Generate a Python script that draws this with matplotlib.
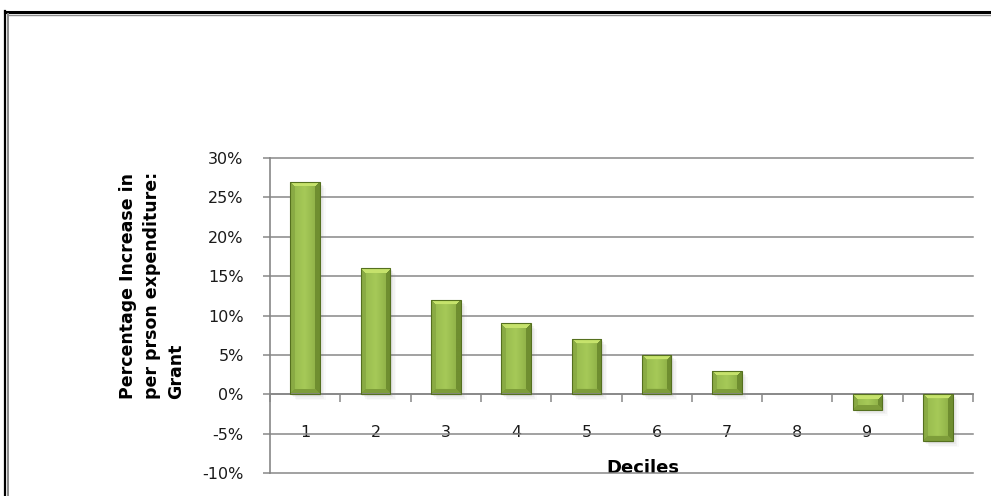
import matplotlib
matplotlib.use("Agg")
import matplotlib.pyplot as plt
import numpy as np
from matplotlib.lines import Line2D
from matplotlib.patches import Rectangle

# per-decile change in per person expenditure (%)
deciles = ['1', '2', '3', '4', '5', '6', '7', '8', '9', '10']
pct_increase = [27, 16, 12, 9, 7, 5, 3, 0, -2, -6]
yticks = [30, 25, 20, 15, 10, 5, 0, -5, -10]

GRID = '#878787'
OUTLINE = '#55701f'


def hex_rgb(h):
    h = h.lstrip('#')
    return np.array([int(h[k:k + 2], 16) / 255 for k in (0, 2, 4)])


def bevel_image(wpx, hpx, b=5.5):
    """RGB image for a bevelled bar of wpx x hpx pixels (row 0 = top)."""
    wpx, hpx = max(int(round(wpx)), 2), max(int(round(hpx)), 2)
    b = min(b, hpx / 3.0, wpx / 3.0)
    j = np.arange(wpx)[None, :] + 0.5
    i = np.arange(hpx)[:, None] + 0.5
    dist = np.stack(np.broadcast_arrays(i, hpx - i, j, wpx - j))
    face = np.argmin(dist, axis=0)
    near = dist.min(axis=0) < b

    # front face: horizontal shading, light in the middle
    t = (j / wpx)[0]
    front_l, front_c, front_r = hex_rgb('#94b84b'), hex_rgb('#a6c958'), hex_rgb('#88a942')
    row = np.where(t[:, None] < 0.5,
                   front_l + (front_c - front_l) * (t[:, None] / 0.5),
                   front_c + (front_r - front_c) * ((t[:, None] - 0.5) / 0.5))
    img = np.broadcast_to(row[None, :, :], (hpx, wpx, 3)).copy()

    faces = [hex_rgb('#c6e36c'),   # top
             hex_rgb('#7e9d3a'),   # bottom
             hex_rgb('#8aab44'),   # left
             hex_rgb('#6f8e30')]   # right
    for k, col in enumerate(faces):
        m = near & (face == k)
        img[m] = col
    return img


plt.rcParams['font.family'] = ['DejaVu Sans']

fig = plt.figure(figsize=(9.91, 4.96), dpi=100)
ax = fig.add_axes([0.2725, 0.0464, 0.7093, 0.635])

x = np.arange(1, len(deciles) + 1)
ax.set_xlim(0.5, len(deciles) + 0.5)
ax.set_ylim(-10, 30)

bars = ax.bar(x, pct_increase, width=0.42, facecolor='none',
              edgecolor=OUTLINE, linewidth=0.8, zorder=3)

# pixel size of one data unit, used for the bevel and shadow
fig.canvas.draw()
p0 = ax.transData.transform((0, 0))
p1 = ax.transData.transform((1, 1))
px_x, px_y = p1[0] - p0[0], p1[1] - p0[1]

for rect in bars:
    x0, w = rect.get_x(), rect.get_width()
    y0, y1 = sorted((rect.get_y(), rect.get_y() + rect.get_height()))
    if y1 - y0 <= 0:
        rect.set_visible(False)
        continue
    # soft shadow below and to the right
    for k, a in enumerate([0.10, 0.07, 0.05, 0.03]):
        off = (k + 1) * 1.5
        ax.add_patch(Rectangle((x0 + off / px_x, y0 - off / px_y), w, y1 - y0,
                               facecolor='#6e6e6e', edgecolor='none',
                               alpha=a, zorder=1.5))
    img = bevel_image(w * px_x, (y1 - y0) * px_y)
    im = ax.imshow(img, extent=(x0, x0 + w, y0, y1), origin='upper',
                   aspect='auto', interpolation='bilinear', zorder=2)
    im.set_clip_path(rect)

ax.set_xlim(0.5, len(deciles) + 0.5)
ax.set_ylim(-10, 30)

# axes styling
for s in ('top', 'right'):
    ax.spines[s].set_visible(False)
ax.spines['bottom'].set_position(('data', 0))
ax.spines['bottom'].set_color(GRID)
ax.spines['bottom'].set_linewidth(1.2)
ax.spines['left'].set_color(GRID)
ax.spines['left'].set_linewidth(1.2)

ax.set_yticks(yticks)
ax.set_yticklabels([f'{v}%' for v in yticks])
ax.yaxis.grid(True, color=GRID, linewidth=1.1)
for gl in ax.get_ygridlines():
    gl.set_clip_on(False)
ax.set_axisbelow(True)
ax.tick_params(axis='y', direction='out', length=5, width=1.1, color=GRID,
               pad=14, labelsize=11.5, labelcolor='#1a1a1a')

ax.set_xticks(x, labels=deciles)
ax.set_xticks(np.arange(0.5, len(deciles) + 1), minor=True)
ax.tick_params(axis='x', which='major', length=0, pad=22,
               labelsize=11.5, labelcolor='#1a1a1a')
ax.tick_params(axis='x', which='minor', direction='out', length=6,
               width=1.1, color=GRID)

ax.set_xlabel('Deciles', fontsize=13, fontweight='bold')
ax.xaxis.set_label_coords(0.53, 0.016)
ax.xaxis.label.set_verticalalignment('center')

ax.set_ylabel('Percentage Increase in\nper prson expenditure:\nGrant',
              fontsize=12.5, fontweight='bold', ha='center', va='center',
              multialignment='left', linespacing=1.45)
ax.yaxis.set_label_coords(-0.168, 0.595)

# chart-area frame (double line, top and left)
fig.add_artist(Line2D([4.5 / 991, 1], [1 - 12 / 496] * 2, color='black',
                      linewidth=2.2, transform=fig.transFigure))
fig.add_artist(Line2D([7.5 / 991, 1], [1 - 14.5 / 496] * 2, color='#8a8a8a',
                      linewidth=1.0, transform=fig.transFigure))
fig.add_artist(Line2D([5 / 991] * 2, [0, 1 - 11 / 496], color='black',
                      linewidth=1.6, transform=fig.transFigure))
fig.add_artist(Line2D([8 / 991] * 2, [0, 1 - 14 / 496], color='#8a8a8a',
                      linewidth=1.4, transform=fig.transFigure))

fig.savefig('out.png', dpi=100)
